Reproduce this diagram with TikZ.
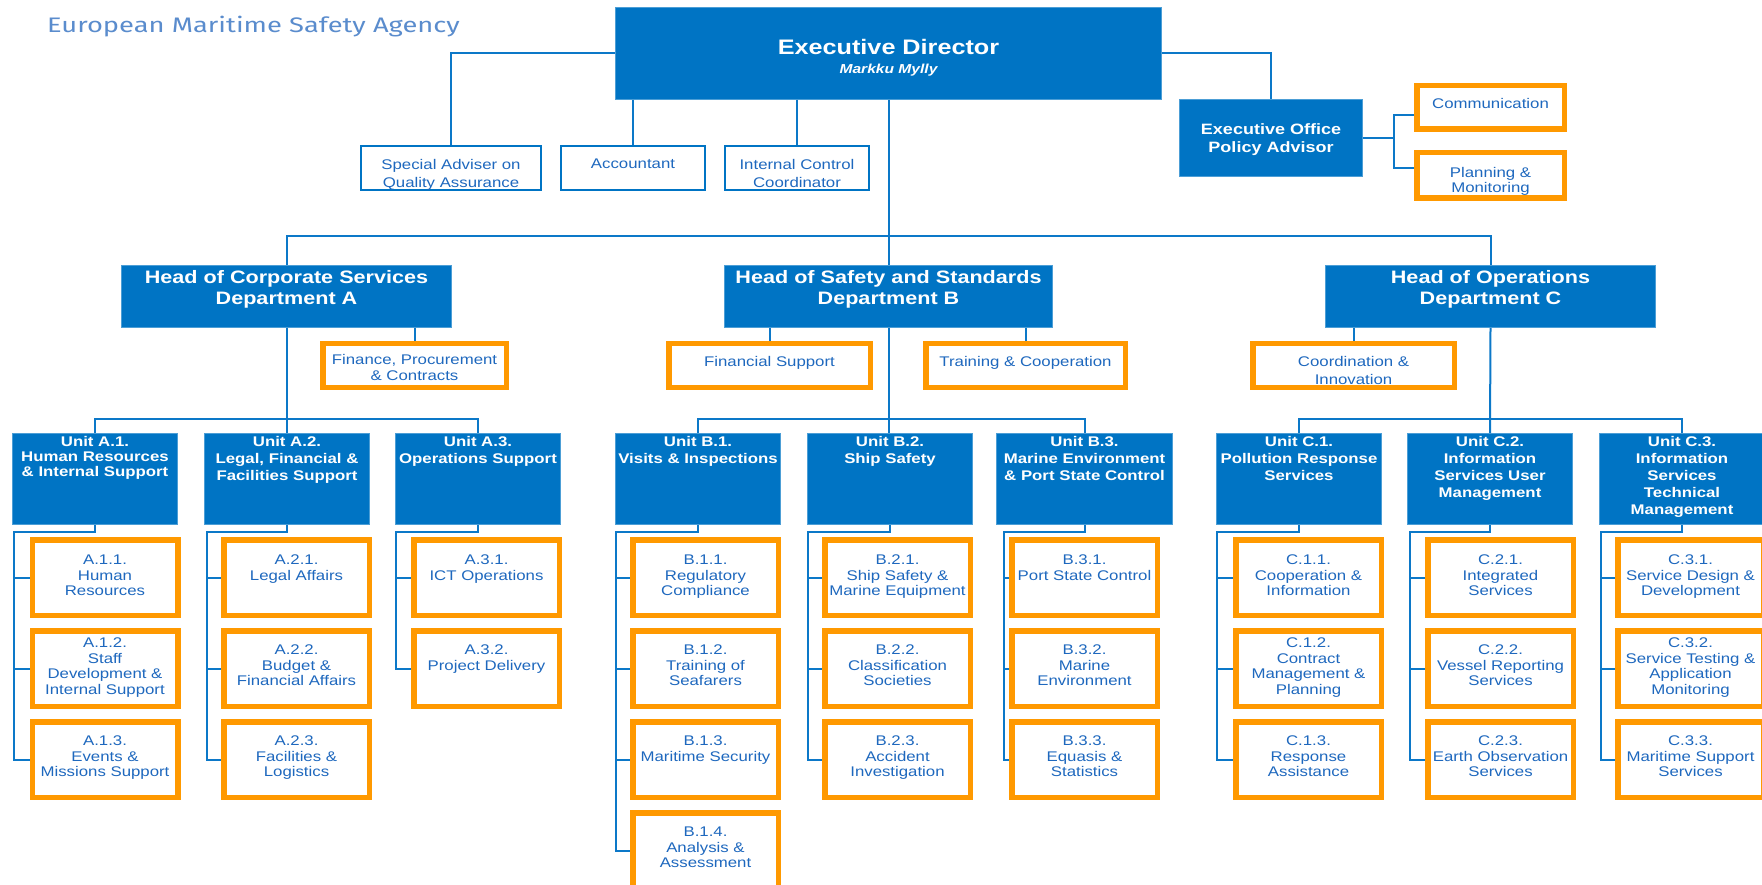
\documentclass[tikz,border=0pt]{standalone}
\usepackage{fontspec}
\setmainfont[FakeStretch=1.2]{Liberation Sans}
\newfontfamily\titlefont[FakeStretch=1.3]{Fira Sans}
\definecolor{boxblue}{RGB}{0,116,196}
\definecolor{linblue}{RGB}{12,120,200}
\definecolor{orng}{RGB}{255,153,0}
\definecolor{txtblue}{RGB}{30,104,190}
\definecolor{ttlblue}{RGB}{90,140,205}

\tikzset{
  conn/.style={draw=linblue, line width=2pt},
  bluebox/.style={rectangle, fill=boxblue, draw=boxblue!70!white, line width=1pt, inner sep=0pt, anchor=north west},
  ubox/.style={bluebox, minimum width=165pt, minimum height=91pt},
  wbox/.style={rectangle, draw=boxblue, line width=2pt, fill=white, inner sep=0pt, anchor=north west, minimum height=44pt},
  obox/.style={rectangle, draw=orng, line width=5.5pt, fill=white, inner sep=0pt, anchor=north west},
  sbox/.style={obox, minimum width=145.5pt, minimum height=75.5pt},
  stxt/.style={anchor=north, inner sep=0pt, align=center, text=txtblue, font=\fontsize{14}{15.5}\selectfont},
  utxt/.style={anchor=north, inner sep=0pt, align=center, text=white, font=\bfseries\fontsize{14}{17}\selectfont},
  dtxt/.style={anchor=north, inner sep=0pt, align=center, text=white, font=\bfseries\fontsize{18}{21}\selectfont},
}

% orange sub-unit box with its label: name, left, top, label offset, text
\newcommand\subunit[5]{%
  \node[sbox] (#1) at (#2,#3) {};
  \node[stxt] (#1-t) at ([yshift=-#4pt]#1.north) {#5};}

% spine from a unit box down to its last sub-unit: unit, last box, spine offset
\newcommand\spine[3]{%
  \coordinate (#1v) at ([xshift=#3pt]#1.south west);
  \draw[conn] (#1.south) -- ++(0,7) -| (#1v |- #2.west) -- (#2.west);}

% branch from a spine to a sub-unit
\newcommand\branch[2]{\draw[conn] (#1v |- #2.west) -- (#2.west);}

\begin{document}
\begin{tikzpicture}[x=1pt,y=-1pt]
\clip (0,0) rectangle (1762,885);
\fill[white] (0,0) rectangle (1762,885);

% heading
\node[anchor=base west, inner sep=0pt, text=ttlblue, font=\titlefont\fontsize{21}{24}\selectfont] (title) at (47,33) {European Maritime Safety Agency};

% ---------- top level ----------
\node[bluebox, minimum width=546pt, minimum height=92pt] (ed) at (615,7) {};
\node[anchor=north, inner sep=0pt, text=white, font=\bfseries\fontsize{21}{24}\selectfont] (ed-t) at ([yshift=-32pt]ed.north) {Executive Director};
\node[anchor=north, inner sep=0pt, text=white, font=\bfseries\itshape\fontsize{13}{15}\selectfont] (ed-n) at ([yshift=-56.5pt]ed.north) {Markku Mylly};

\node[wbox, minimum width=180pt] (sa) at (360,145) {};
\node[stxt, font=\fontsize{14}{18}\selectfont] (sa-t) at ([yshift=-14pt]sa.north) {Special Adviser on\\Quality Assurance};
\node[wbox, minimum width=144pt] (acc) at (560,145) {};
\node[stxt] (acc-t) at ([yshift=-14pt]acc.north) {Accountant};
\node[wbox, minimum width=144pt] (ic) at (724,145) {};
\node[stxt, font=\fontsize{14}{18}\selectfont] (ic-t) at ([yshift=-14pt]ic.north) {Internal Control\\Coordinator};

\node[bluebox, minimum width=183pt, minimum height=77pt] (eo) at (1179,99) {};
\node[anchor=north, inner sep=0pt, align=center, text=white, font=\bfseries\fontsize{15}{18}\selectfont] (eo-t) at ([yshift=-24.5pt]eo.north) {Executive Office\\Policy Advisor};

\node[obox, minimum width=147.5pt, minimum height=43.5pt] (comm) at (1414,83) {};
\node[stxt] (comm-t) at ([yshift=-15pt]comm.north) {Communication};
\node[obox, minimum width=147.5pt, minimum height=45.5pt] (plan) at (1414,150) {};
\node[stxt, font=\fontsize{14}{15}\selectfont] (plan-t) at ([yshift=-17pt]plan.north) {Planning \&\\Monitoring};

% ---------- departments ----------
\node[bluebox, minimum width=330pt, minimum height=62pt] (dA) at (121,265) {};
\node[dtxt] (dA-t) at ([yshift=-5.5pt]dA.north) {Head of Corporate Services\\Department A};
\node[bluebox, minimum width=328pt, minimum height=62pt] (dB) at (724,265) {};
\node[dtxt] (dB-t) at ([yshift=-5.5pt]dB.north) {Head of Safety and Standards\\Department B};
\node[bluebox, minimum width=330pt, minimum height=62pt] (dC) at (1325,265) {};
\node[dtxt] (dC-t) at ([yshift=-5.5pt]dC.north) {Head of Operations\\Department C};

\node[obox, minimum width=183.5pt, minimum height=43.5pt] (fin) at (320,341) {};
\node[stxt, font=\fontsize{14}{16}\selectfont] (fin-t) at ([yshift=-13pt]fin.north) {Finance, Procurement\\\& Contracts};
\node[obox, minimum width=201.5pt, minimum height=43.5pt] (fsup) at (666,341) {};
\node[stxt] (fsup-t) at ([yshift=-15pt]fsup.north) {Financial Support};
\node[obox, minimum width=199.5pt, minimum height=43.5pt] (trc) at (923,341) {};
\node[stxt] (trc-t) at ([yshift=-15pt]trc.north) {Training \& Cooperation};
\node[obox, minimum width=201.5pt, minimum height=43.5pt] (coin) at (1250,341) {};
\node[stxt, font=\fontsize{14}{18}\selectfont] (coin-t) at ([yshift=-15pt]coin.north) {Coordination \&\\Innovation};

% ---------- units ----------
\node[ubox] (a1) at (12,433) {};
\node[utxt, font=\bfseries\fontsize{14}{15}\selectfont] (a1-t) at ([yshift=-3.5pt]a1.north) {Unit A.1.\\Human Resources\\\& Internal Support};
\node[ubox] (a2) at (204,433) {};
\node[utxt] (a2-t) at ([yshift=-3.5pt]a2.north) {Unit A.2.\\Legal, Financial \&\\Facilities Support};
\node[ubox] (a3) at (395,433) {};
\node[utxt] (a3-t) at ([yshift=-3.5pt]a3.north) {Unit A.3.\\Operations Support};
\node[ubox] (b1) at (615,433) {};
\node[utxt] (b1-t) at ([yshift=-3.5pt]b1.north) {Unit B.1.\\Visits \& Inspections};
\node[ubox] (b2) at (807,433) {};
\node[utxt] (b2-t) at ([yshift=-3.5pt]b2.north) {Unit B.2.\\Ship Safety};
\node[ubox, minimum width=176pt] (b3) at (996,433) {};
\node[utxt] (b3-t) at ([yshift=-3.5pt]b3.north) {Unit B.3.\\Marine Environment\\\& Port State Control};
\node[ubox] (c1) at (1216,433) {};
\node[utxt] (c1-t) at ([yshift=-3.5pt]c1.north) {Unit C.1.\\Pollution Response\\Services};
\node[ubox] (c2) at (1407,433) {};
\node[utxt] (c2-t) at ([yshift=-3.5pt]c2.north) {Unit C.2.\\Information\\Services User\\Management};
\node[ubox] (c3) at (1599,433) {};
\node[utxt] (c3-t) at ([yshift=-3.5pt]c3.north) {Unit C.3.\\Information\\Services\\Technical\\Management};

% ---------- connectors, upper part ----------
\draw[conn] (ed.west) -| (sa.north);
\draw[conn] (ed.south -| acc.north) -- (acc.north);
\draw[conn] (ed.south -| ic.north) -- (ic.north);
\draw[conn] (ed.east) -| (eo.north);
\coordinate (eoj) at (1394,138);
\draw[conn] (eo.east) -- (eoj);
\draw[conn] ([yshift=-7.5pt]comm.west) -| (eoj);
\draw[conn] ([yshift=7.5pt]plan.west) -| (eoj);

\coordinate (lvl) at (0,236);
\draw[conn] (ed.south) -- (dB.north);
\draw[conn] (dA.north) |- (lvl -| dB.north) -| (dC.north);

\draw[conn] (dA.south -| fin.north) -- (fin.north);
\draw[conn] (dB.south -| fsup.north) -- (fsup.north);
\draw[conn] (dB.south -| trc.north) -- (trc.north);
\draw[conn] (dC.south -| coin.north) -- (coin.north);

\coordinate (ulv) at (0,419);
\draw[conn] (dA.south) -- (dA.south |- a2.north);
\draw[conn] (a1.north) |- (ulv -| a2.north) -| (a3.north);
\draw[conn] (dB.south) -- (dB.south |- b2.north);
\draw[conn] (b1.north) |- (ulv -| b2.north) -| (b3.north);
\draw[conn] (dC.south) -- (c2.north);
\draw[conn] (c1.north) |- (ulv -| c2.north) -| (c3.north);

% ---------- sub-units ----------
\subunit{a11}{29.5}{537}{18}{A.1.1.\\Human\\Resources}
\subunit{a12}{29.5}{628}{10}{A.1.2.\\Staff\\Development \&\\Internal Support}
\subunit{a13}{29.5}{719}{17}{A.1.3.\\Events \&\\Missions Support}
\subunit{a21}{221}{537}{18}{A.2.1.\\Legal Affairs}
\subunit{a22}{221}{628}{17}{A.2.2.\\Budget \&\\Financial Affairs}
\subunit{a23}{221}{719}{17}{A.2.3.\\Facilities \&\\Logistics}
\subunit{a31}{411}{537}{18}{A.3.1.\\ICT Operations}
\subunit{a32}{411}{628}{17}{A.3.2.\\Project Delivery}

\subunit{b11}{630}{537}{18}{B.1.1.\\Regulatory\\Compliance}
\subunit{b12}{630}{628}{17}{B.1.2.\\Training of\\Seafarers}
\subunit{b13}{630}{719}{17}{B.1.3.\\Maritime Security}
\subunit{b14}{630}{810}{17}{B.1.4.\\Analysis \&\\Assessment}
\subunit{b21}{822}{537}{18}{B.2.1.\\Ship Safety \&\\Marine Equipment}
\subunit{b22}{822}{628}{17}{B.2.2.\\Classification\\Societies}
\subunit{b23}{822}{719}{17}{B.2.3.\\Accident\\Investigation}
\subunit{b31}{1009}{537}{18}{B.3.1.\\Port State Control}
\subunit{b32}{1009}{628}{17}{B.3.2.\\Marine\\Environment}
\subunit{b33}{1009}{719}{17}{B.3.3.\\Equasis \&\\Statistics}

\subunit{c11}{1233}{537}{18}{C.1.1.\\Cooperation \&\\Information}
\subunit{c12}{1233}{628}{10}{C.1.2.\\Contract\\Management \&\\Planning}
\subunit{c13}{1233}{719}{17}{C.1.3.\\Response\\Assistance}
\subunit{c21}{1425}{537}{18}{C.2.1.\\Integrated\\Services}
\subunit{c22}{1425}{628}{17}{C.2.2.\\Vessel Reporting\\Services}
\subunit{c23}{1425}{719}{17}{C.2.3.\\Earth Observation\\Services}
\subunit{c31}{1615}{537}{18}{C.3.1.\\Service Design \&\\Development}
\subunit{c32}{1615}{628}{10}{C.3.2.\\Service Testing \&\\Application\\Monitoring}
\subunit{c33}{1615}{719}{17}{C.3.3.\\Maritime Support\\Services}

% ---------- spines and branches ----------
\spine{a1}{a13}{2}  \branch{a1}{a11} \branch{a1}{a12}
\spine{a2}{a23}{3}  \branch{a2}{a21} \branch{a2}{a22}
\spine{a3}{a32}{1}  \branch{a3}{a31}
\spine{b1}{b14}{1}  \branch{b1}{b11} \branch{b1}{b12} \branch{b1}{b13}
\spine{b2}{b23}{1}  \branch{b2}{b21} \branch{b2}{b22}
\spine{b3}{b33}{8}  \branch{b3}{b31} \branch{b3}{b32}
\spine{c1}{c13}{1}  \branch{c1}{c11} \branch{c1}{c12}
\spine{c2}{c23}{3}  \branch{c2}{c21} \branch{c2}{c22}
\spine{c3}{c33}{2}  \branch{c3}{c31} \branch{c3}{c32}
\end{tikzpicture}
\end{document}
